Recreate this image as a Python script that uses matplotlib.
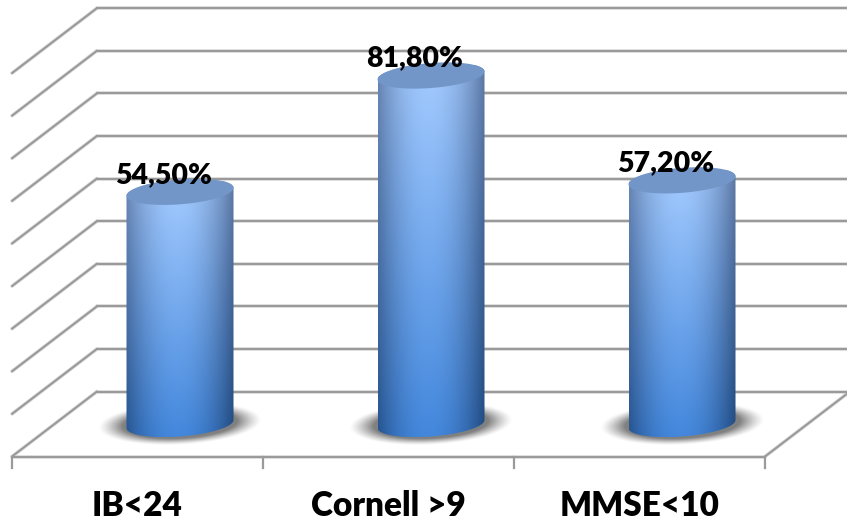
import numpy as np
import matplotlib
matplotlib.use("Agg")
import matplotlib.pyplot as plt
from matplotlib.patches import Polygon
from matplotlib.colors import to_rgb

# Percent of residents over each scale cut-off
categories = ["IB<24", "Cornell >9", "MMSE<10"]
values = [54.5, 81.8, 57.2]
grid_levels = [0, 10, 20, 30, 40, 50, 60, 70, 80, 90]

plt.rcParams["font.family"] = ["Lato", "DejaVu Sans"]

W, H = 847, 522
fig = plt.figure(figsize=(W / 100, H / 100), dpi=100)
ax = fig.add_axes([0, 0, 1, 1])

# one category = 251 px, ten percent = 42.6 px
px_x = 251.0
px_y = 4.26
x0 = 12.0
y0 = 456.5
ax.set_xlim(-x0 / px_x, (W - x0) / px_x)
ax.set_ylim((y0 - H) / px_y, y0 / px_y)
ax.axis("off")

# depth of the floor, in axis units
depth_x = 85 / px_x
depth_y = 65 / px_y
n = len(categories)

grid_col = "#9a9a9a"
halo_col = "#dcdcdc"


def wall_line(xs, ys, lw=1.5):
    ax.plot(xs, ys, color=halo_col, lw=lw + 1.1, solid_capstyle="round", zorder=1)
    ax.plot(xs, ys, color=grid_col, lw=lw, solid_capstyle="round", zorder=1.1)


# side wall and back wall
for lev in grid_levels:
    wall_line([0, depth_x], [lev, lev + depth_y])
    wall_line([depth_x, n + depth_x], [lev + depth_y, lev + depth_y])

# floor edges and category ticks
wall_line([0, n], [0, 0])
wall_line([n, n + depth_x], [0, depth_y])
for i in range(n + 1):
    ax.plot([i, i], [0, -11 / px_y], color=grid_col, lw=1.6, zorder=1.1)


def ellipse(cx, cy, start=0.0, end=2 * np.pi, num=80):
    rx = 53.5 / px_x
    ry = 12.5 / px_y
    tilt = 4.0 / px_y
    t = np.linspace(start, end, num)
    return cx + rx * np.cos(t), cy + ry * np.sin(t) + tilt * np.cos(t)


centre_top = np.array(to_rgb("#a4cbff"))
centre_bot = np.array(to_rgb("#4387dc"))
edge_top = np.array(to_rgb("#6480ad"))
edge_bot = np.array(to_rgb("#234f88"))

# horizontal and vertical shading of the cylinder body
rows, cols = 220, 120
u = np.linspace(-1, 1, cols)[None, :, None]
t = np.linspace(0, 1, rows)[:, None, None]
shade = 1 - np.abs(u + 0.05) ** 2.0
body_img = (centre_top * (1 - t) + centre_bot * t) * shade + (edge_top * (1 - t) + edge_bot * t) * (1 - shade)

# soft floor shadow
sx = np.linspace(-1, 1, 200)[None, :]
sy = np.linspace(-1, 1, 80)[:, None]
sr = np.sqrt(sx ** 2 + (sy + 0.18 * sx) ** 2)
shadow_img = np.zeros((80, 200, 4))
shadow_img[..., :3] = 0.38
shadow_img[..., 3] = 0.8 * np.clip((1 - sr) / 0.3, 0, 1) ** 1.3

for i, (cat, val) in enumerate(zip(categories, values)):
    cx = i + 0.5 + depth_x / 2
    base = depth_y / 2
    top = val + depth_y / 2
    half_w = 53.5 / px_x

    # shadow under the cylinder
    ax.imshow(shadow_img, extent=[cx - 82 / px_x, cx + 82 / px_x, base - 21 / px_y, base + 21 / px_y],
              aspect="auto", zorder=2, interpolation="bilinear")

    # body outline: front of the base, then back over the top rim
    bx, by = ellipse(cx, base, np.pi, 2 * np.pi)
    tx, ty = ellipse(cx, top, 0, np.pi)
    outline = np.column_stack([np.r_[bx, tx], np.r_[by, ty]])
    poly = Polygon(outline, closed=True, fc="none", ec="none", zorder=3)
    ax.add_patch(poly)
    im = ax.imshow(body_img, extent=[cx - half_w, cx + half_w, base - 13 / px_y, top + 10 / px_y],
                   aspect="auto", zorder=3, interpolation="bilinear")
    im.set_clip_path(poly)

    # cap of the cylinder
    ex, ey = ellipse(cx, top)
    ax.fill(ex, ey, fc="#7396c9", ec="none", zorder=4)

    label = f"{val:.2f}%".replace(".", ",")
    ax.annotate(label, (cx, top), xytext=(-12, 12.3), textcoords="offset points",
                ha="center", va="center", fontsize=20.5, fontweight="heavy", color="black", zorder=5)
    ax.text(i + 0.5, -50 / px_y, cat, ha="center", va="center",
            fontsize=24, fontweight="heavy", color="black", zorder=5)

ax.set_xlim(-x0 / px_x, (W - x0) / px_x)
ax.set_ylim((y0 - H) / px_y, y0 / px_y)

fig.savefig("out.png", dpi=100, facecolor="white")
